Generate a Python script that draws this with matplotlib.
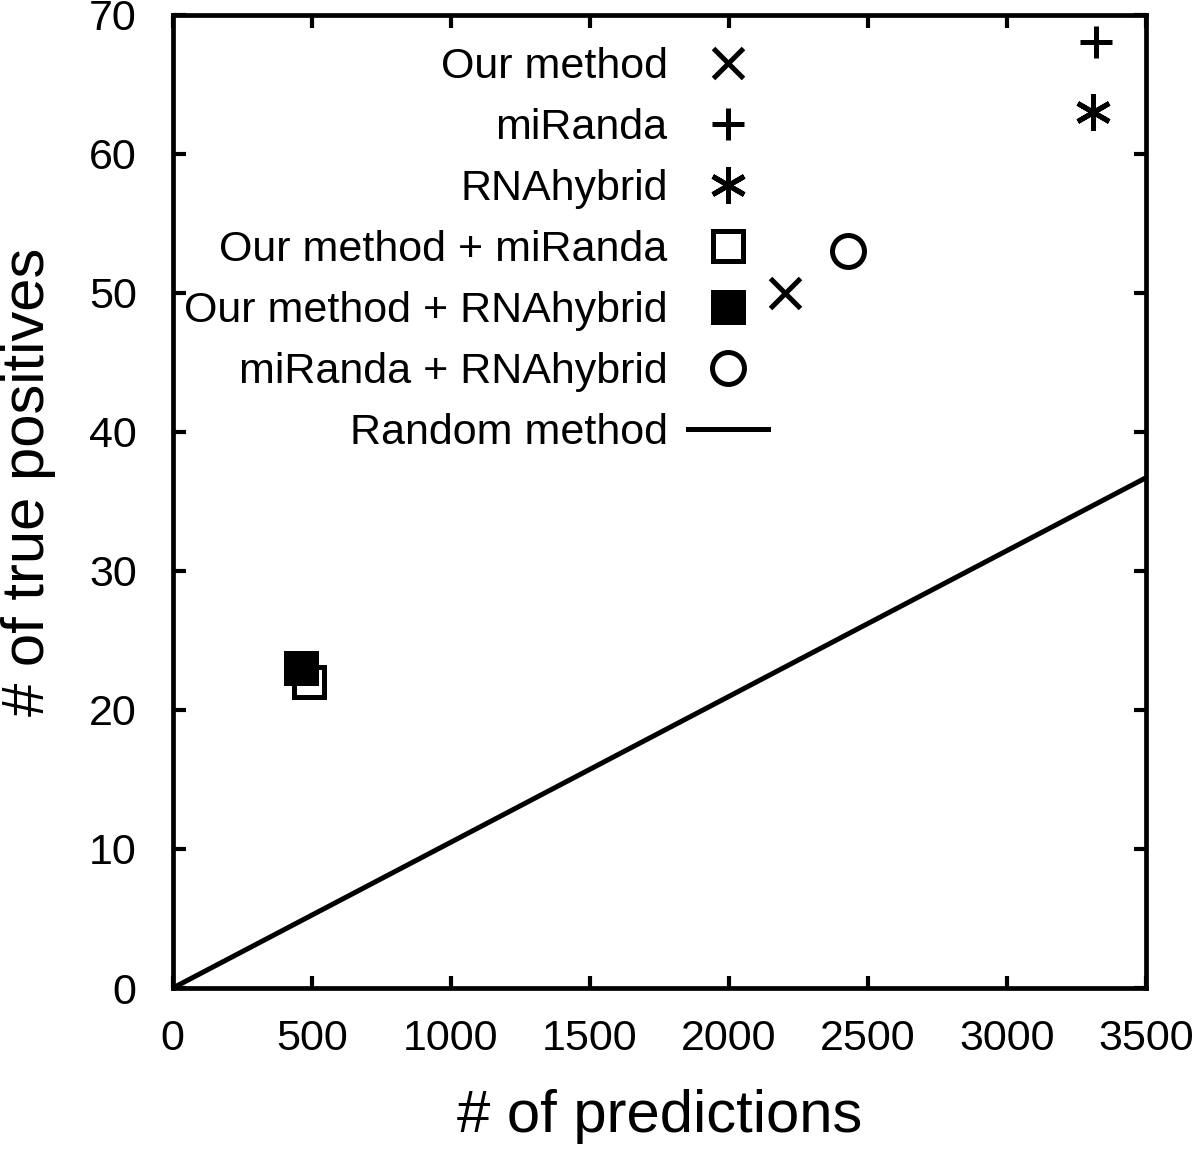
import matplotlib
matplotlib.use("Agg")
import matplotlib.pyplot as plt

plt.rcParams['font.family'] = ['Liberation Sans', 'DejaVu Sans']

methods = ["Our method", "miRanda", "RNAhybrid", "Our method + miRanda",
           "Our method + RNAhybrid", "miRanda + RNAhybrid"]
predictions = [2200, 3320, 3310, 490, 460, 2430]
true_positives = [50, 68, 63, 22, 23, 53]
markers = ["x", "+", (6, 2, 0), "s", "s", "o"]
marker_sizes = [22, 23, 26, 21, 21, 23]
fills = ["none", "none", "none", "none", "black", "none"]

random_x = [0, 3500]
random_y = [0, 36.7]

xticks = [0, 500, 1000, 1500, 2000, 2500, 3000, 3500]
yticks = [0, 10, 20, 30, 40, 50, 60, 70]

fig = plt.figure(figsize=(12, 11.56), dpi=100)
ax = fig.add_axes([0.144, 0.1453, 0.811, 0.842])

handles = []
for name, x, y, m, ms, f in zip(methods, predictions, true_positives, markers, marker_sizes, fills):
    h, = ax.plot([x], [y], linestyle='none', marker=m, markersize=ms,
                 markerfacecolor=f, markeredgecolor='black', markeredgewidth=3.6,
                 color='black', label=name, clip_on=False)
    handles.append(h)

lr, = ax.plot(random_x, random_y, color='black', linewidth=3.6, label="Random method")
handles.append(lr)

ax.set_xlim(0, 3500)
ax.set_ylim(0, 70)
ax.set_xticks(xticks)
ax.set_yticks(yticks)
ax.tick_params(direction='in', length=9, width=3, top=True, right=True,
               labelsize=31)
ax.tick_params(axis='x', pad=22)
ax.tick_params(axis='y', pad=26)
for s in ax.spines.values():
    s.set_linewidth(3.4)

ax.set_xlabel("# of predictions", fontsize=43, labelpad=22)
ax.set_ylabel("# of true positives", fontsize=43)
ax.yaxis.set_label_coords(-0.12, 0.52)

leg = ax.legend(handles=handles, loc='upper right', bbox_to_anchor=(0.6115, 0.967),
                frameon=False, markerfirst=False, fontsize=31,
                handlelength=1.86, handletextpad=0.47, labelspacing=0.49,
                borderaxespad=0.0, borderpad=0.0, numpoints=1)
for t in leg.get_texts():
    t.set_ha('right')

fig.savefig("out.png", dpi=100)
